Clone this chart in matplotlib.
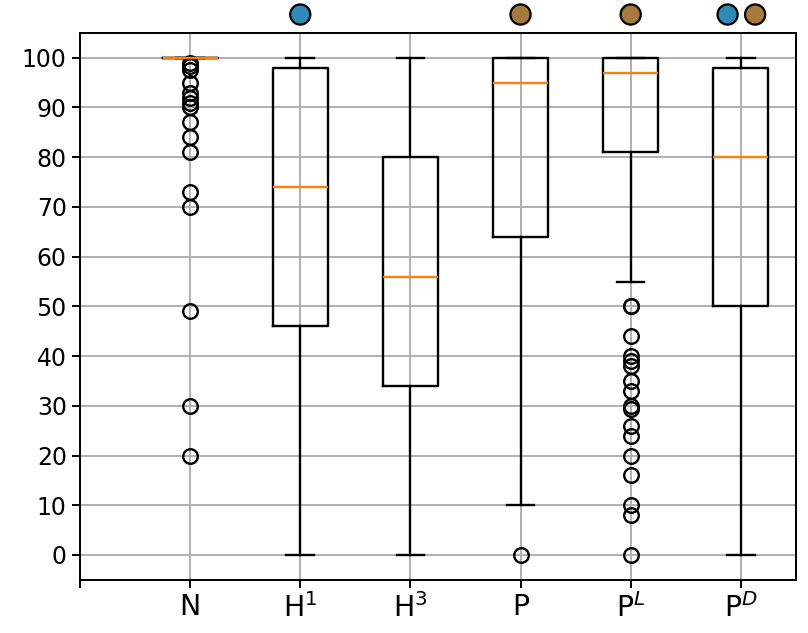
import numpy as np
import matplotlib
matplotlib.use('Agg')
import matplotlib.pyplot as plt

# box statistics
labels = ['N', 'H$^1$', 'H$^3$', 'P', 'P$^L$', 'P$^D$']
medians = [100, 74, 56, 95, 97, 80]
q1 = [100, 46, 34, 64, 81, 50]
q3 = [100, 98, 80, 100, 100, 98]
whis_lo = [100, 0, 0, 10, 55, 0]
whis_hi = [100, 100, 100, 100, 100, 100]
fliers = [
    [99, 98.3, 97.6, 95, 93, 92, 91, 90, 87, 84, 81, 73, 70, 49, 30, 20],
    [],
    [],
    [0],
    [50, 50, 44, 40, 39, 38, 35, 33, 30, 29.3, 26, 24, 20, 16, 10, 8, 0],
    [],
]

# markers above the plot: (x position, colour)
dot_x = [2, 4, 5, 5.88, 6.13]
dot_color = ['#2e8bb7', '#a6793f', '#a6793f', '#2e8bb7', '#a6793f']
dot_y = 108.7

stats = []
for i in range(len(labels)):
    stats.append({'med': medians[i], 'q1': q1[i], 'q3': q3[i],
                  'whislo': whis_lo[i], 'whishi': whis_hi[i],
                  'fliers': fliers[i], 'label': labels[i]})

fig, ax = plt.subplots(figsize=(8.08, 6.33), dpi=100)
fig.subplots_adjust(left=0.099, right=0.985, top=0.948, bottom=0.084)

lw = 1.7
ax.bxp(stats, positions=range(1, 7), widths=0.5,
       boxprops=dict(linewidth=lw, color='black'),
       whiskerprops=dict(linewidth=lw, color='black'),
       capprops=dict(linewidth=lw, color='black'),
       medianprops=dict(linewidth=lw, color='#ff7f0e'),
       flierprops=dict(marker='o', markersize=10.5, markerfacecolor='none',
                       markeredgecolor='black', markeredgewidth=1.7))

ax.scatter(dot_x, [dot_y] * len(dot_x), s=210, c=dot_color,
           edgecolors='black', linewidths=1.6, clip_on=False, zorder=5)

ax.set_xlim(0, 6.5)
ax.set_ylim(-5, 105)
ax.set_xticks(range(0, 7))
ax.set_xticklabels([''] + labels, fontsize=20.5)
ax.set_yticks(range(0, 101, 10))
ax.tick_params(axis='y', labelsize=17)
ax.tick_params(length=6, width=1.4)
ax.grid(True, color='#b0b0b0', linewidth=1.4)
ax.set_axisbelow(True)
for s in ax.spines.values():
    s.set_linewidth(1.4)

plt.savefig('out.png', dpi=100)
